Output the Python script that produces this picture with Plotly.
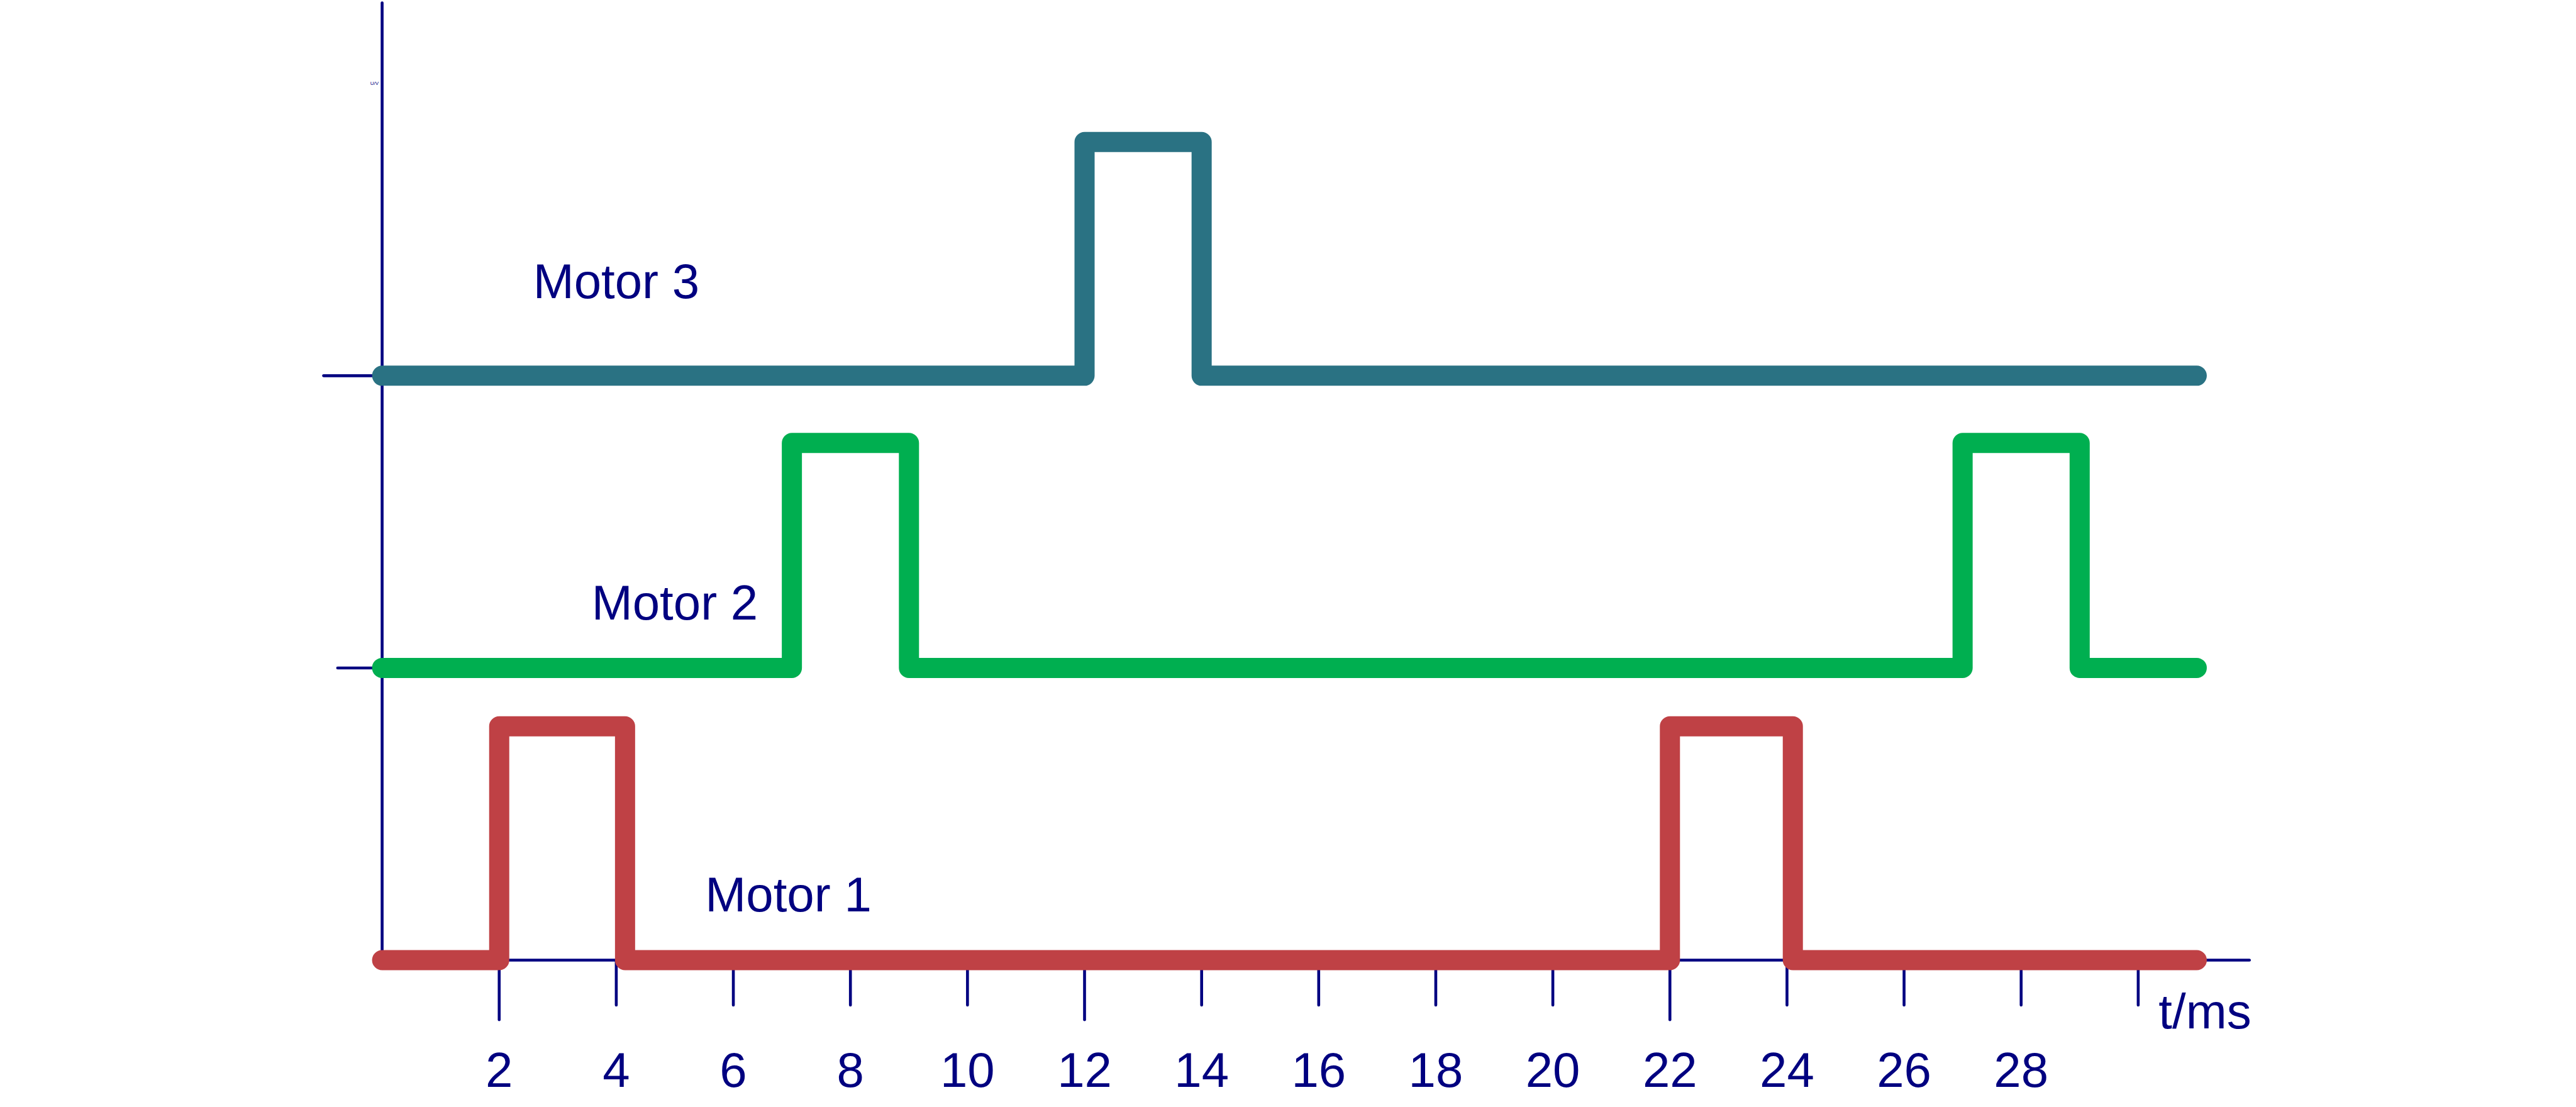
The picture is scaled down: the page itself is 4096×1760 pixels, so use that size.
import plotly.graph_objects as go

# ---- data (time in ms, signal levels in chart units) ----
m1_t = [0, 2, 4.15, 22, 24.1, 31]
m1_v = [0, 4, 0, 4, 0, 0]
m2_t = [0, 7, 9, 27, 29, 31]
m2_v = [5, 8.85, 5, 8.85, 5, 5]
m3_t = [0, 12, 14, 31]
m3_v = [10, 14, 10, 10]

motor_names = ["Motor 1", "Motor 2", "Motor 3"]
motor_colors = ["#BF4145", "#00AF50", "#2A7283"]
label_x = [6.94, 5.0, 4.0]
label_y = [1.04, 6.04, 11.54]

x_tick_vals = [2, 4, 6, 8, 10, 12, 14, 16, 18, 20, 22, 24, 26, 28, 30]
x_tick_labels = ["2", "4", "6", "8", "10", "12", "14", "16", "18", "20", "22", "24", "26", "28", ""]
long_x_ticks = [2, 12, 22]
y_tick_vals = [5, 10]
y_tick_len = [0.76, 1.0]

x_axis_end = 31.9
y_axis_end = 16.38
x_unit = "t/ms"
y_unit = "U/V"

NAVY = "#000080"
FONT = "Liberation Sans, Arial, sans-serif"
AX_W = 4.6
SIG_W = 32

fig = go.Figure()

# axes lines
fig.add_trace(go.Scatter(x=[0, x_axis_end], y=[0, 0], mode="lines",
                         line=dict(color=NAVY, width=AX_W), hoverinfo="skip"))
fig.add_trace(go.Scatter(x=[0, 0], y=[0, y_axis_end], mode="lines",
                         line=dict(color=NAVY, width=AX_W), hoverinfo="skip"))

# x ticks
tx, ty = [], []
for v in x_tick_vals:
    tx += [v, v, None]
    ty += [0, -1.02 if v in long_x_ticks else -0.77, None]
fig.add_trace(go.Scatter(x=tx, y=ty, mode="lines",
                         line=dict(color=NAVY, width=AX_W), hoverinfo="skip"))

# y ticks
yx, yy = [], []
for v, ln in zip(y_tick_vals, y_tick_len):
    yx += [-ln, 0, None]
    yy += [v, v, None]
fig.add_trace(go.Scatter(x=yx, y=yy, mode="lines",
                         line=dict(color=NAVY, width=AX_W), hoverinfo="skip"))

# signals
for t, v, c in zip([m1_t, m2_t, m3_t], [m1_v, m2_v, m3_v], motor_colors):
    fig.add_trace(go.Scatter(x=t, y=v, mode="lines",
                             line=dict(color=c, width=SIG_W, shape="hv"),
                             hoverinfo="skip"))

# motor labels
fig.add_trace(go.Scatter(x=label_x, y=label_y, mode="text", text=motor_names,
                         textposition="middle center",
                         textfont=dict(family=FONT, size=78, color=NAVY),
                         hoverinfo="skip"))

# x tick labels
fig.add_trace(go.Scatter(x=x_tick_vals, y=[-1.96] * len(x_tick_vals), mode="text",
                         text=x_tick_labels, textposition="middle center",
                         textfont=dict(family=FONT, size=78, color=NAVY),
                         hoverinfo="skip"))

# unit labels
fig.add_trace(go.Scatter(x=[31.14], y=[-0.956], mode="text", text=[x_unit],
                         textposition="middle center",
                         textfont=dict(family=FONT, size=78, color=NAVY),
                         hoverinfo="skip"))
fig.add_trace(go.Scatter(x=[-0.06], y=[15.0], mode="text", text=[y_unit],
                         textposition="middle left",
                         textfont=dict(family=FONT, size=8, color=NAVY),
                         hoverinfo="skip"))

fig.update_layout(
    width=4096, height=1760,
    margin=dict(l=0, r=0, t=0, b=0),
    paper_bgcolor="white", plot_bgcolor="white",
    showlegend=False,
    xaxis=dict(visible=False, range=[-6.528, 37.479], fixedrange=True),
    yaxis=dict(visible=False, range=[-2.513, 16.429], fixedrange=True),
)

post = ("var st=document.createElement('style');"
        "st.textContent='.scatterlayer .js-line{stroke-linecap:round;stroke-linejoin:round}';"
        "document.head.appendChild(st);")
fig.write_html("out.html", post_script=post)
